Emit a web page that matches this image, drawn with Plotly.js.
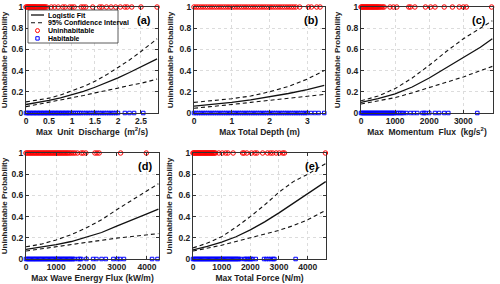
<!DOCTYPE html>
<html><head><meta charset="utf-8">
<script src="https://cdn.plot.ly/plotly-3.0.1.min.js"></script>
<style>html,body{margin:0;padding:0;background:#fff}#plot{width:500px;height:284px}</style>
</head><body><div id="plot"></div>
<script>
// ---- Panel (a): Max Unit Discharge
const aX = [0,0.25,0.5,0.75,1,1.25,1.5,1.75,2,2.25,2.5,2.85];
const aFit = [0.08,0.098,0.119,0.143,0.172,0.205,0.243,0.285,0.332,0.382,0.434,0.51];
const aUp = [0.105,0.12,0.14,0.17,0.21,0.25,0.30,0.36,0.43,0.50,0.58,0.70];
const aLo = [0.06,0.08,0.10,0.12,0.14,0.165,0.19,0.21,0.235,0.26,0.28,0.32];
const aRed = [0,0.02,0.04,0.05,0.07,0.09,0.1,0.12,0.14,0.15,0.17,0.19,0.2,0.22,0.24,0.26,0.28,0.3,0.32,0.34,0.36,0.38,0.4,0.42,0.45,0.55,0.62,0.7,0.8,0.85,0.95,1.0,1.05,1.2,1.25,1.3,1.45,1.6,1.65,1.75,1.85,1.95,2.05,2.15,2.2,2.3,2.5,2.85];
const aBlue = [0,0.03,0.06,0.09,0.12,0.15,0.18,0.21,0.24,0.27,0.3,0.33,0.36,0.39,0.42,0.45,0.48,0.51,0.54,0.57,0.6,0.63,0.66,0.69,0.72,0.75,0.78,0.81,0.84,0.87,0.9,0.93,0.96,1.0,1.04,1.08,1.12,1.16,1.2,1.25,1.3,1.35,1.4,1.45,1.5,1.55,1.6,1.65,1.7,1.75,1.8,1.85,1.9,1.95,2.0,2.15,2.25,2.35,2.55];

// ---- Panel (b): Max Total Depth
const bX = [0,0.5,1,1.5,2,2.5,3,3.45];
const bFit = [0.065,0.081,0.10,0.124,0.151,0.184,0.221,0.26];
const bUp = [0.10,0.115,0.135,0.16,0.20,0.25,0.32,0.40];
const bLo = [0.045,0.06,0.08,0.10,0.12,0.14,0.16,0.175];
const bRed = [0,0.06,0.12,0.18,0.24,0.3,0.36,0.42,0.48,0.54,0.6,0.66,0.72,0.78,0.84,0.9,0.96,1.02,1.08,1.14,1.2,1.26,1.32,1.38,1.44,1.5,1.56,1.62,1.68,1.74,1.8,1.86,1.92,1.98,2.04,2.1,2.16,2.22,2.28,2.34,2.4,2.46,2.52,2.58,2.64,2.7,2.8,3.03,3.11,3.25,3.34];
const bBlue = [0,0.06,0.12,0.18,0.24,0.3,0.36,0.42,0.48,0.54,0.6,0.66,0.72,0.78,0.84,0.9,0.96,1.02,1.08,1.14,1.2,1.26,1.32,1.38,1.44,1.5,1.56,1.62,1.68,1.74,1.8,1.86,1.92,1.98,2.04,2.1,2.16,2.22,2.28,2.34,2.4,2.46,2.52,2.58,2.64,2.7,2.76,2.82,2.88,2.94,3.0,3.1,3.2,3.3,3.45];

// ---- Panel (c): Max Momentum Flux
const cX = [0,500,1000,1500,2000,2500,3000,3500,3850];
const cFit = [0.10,0.135,0.18,0.245,0.33,0.425,0.52,0.62,0.70];
const cUp = [0.115,0.16,0.23,0.33,0.45,0.58,0.70,0.80,0.87];
const cLo = [0.085,0.115,0.145,0.19,0.24,0.29,0.34,0.40,0.44];
const cRed = [0,25,50,75,100,125,150,175,200,225,250,275,300,325,350,375,400,425,450,475,500,530,560,600,640,680,850,950,1050,1400,1450,1580,1890,2040,2170,2440,2680,2880,3000,3090,3830];
const cBlue = [0,30,60,90,120,150,180,210,240,270,300,330,360,390,420,450,480,510,540,570,600,630,660,690,720,750,780,810,840,870,900,930,960,990,1050,1100,1150,1200,1250,1330,1450,1550,1650,1800,1850,1900,2000,2170,2290,2440,2560,3410];

// ---- Panel (d): Max Wave Energy Flux
const dX = [0,500,1000,1500,2000,2500,3000,3500,4000,4380];
const dFit = [0.09,0.11,0.135,0.165,0.205,0.25,0.31,0.365,0.425,0.47];
const dUp = [0.115,0.14,0.18,0.23,0.295,0.37,0.465,0.555,0.645,0.71];
const dLo = [0.075,0.095,0.115,0.14,0.16,0.18,0.197,0.212,0.228,0.24];
const dRed = [0,40,80,120,160,200,240,280,320,360,400,440,480,520,560,600,640,680,720,760,800,840,880,920,960,1000,1040,1080,1120,1160,1200,1240,1280,1320,1360,1400,1450,1500,1560,1620,1700,1830,1890,1980,2280,2350,2420,3130,3980];
const dBlue = [0,40,80,120,160,200,240,280,320,360,400,440,480,520,560,600,640,680,720,760,800,840,880,920,960,1000,1040,1080,1120,1160,1200,1240,1280,1320,1360,1400,1440,1480,1520,1560,1610,1720,1780,1830,2000,2220,2330,2500,2640,2890,3020,3110,3240,4170,4350];

// ---- Panel (e): Max Total Force
const eX = [0,500,1000,1500,2000,2500,3000,3500,4000,4630];
const eFit = [0.085,0.118,0.16,0.21,0.275,0.35,0.435,0.525,0.615,0.73];
const eUp = [0.105,0.15,0.21,0.30,0.40,0.51,0.63,0.73,0.80,0.90];
const eLo = [0.075,0.10,0.13,0.165,0.20,0.235,0.27,0.315,0.37,0.46];
const eRed = [0,30,60,90,120,150,180,210,240,270,300,330,360,390,420,450,480,510,540,570,600,630,660,690,720,750,785,900,1020,1140,1220,1400,1730,1780,1880,2040,2160,2230,2430,2600,2700,2780,2900,3010,3130,3190,4620];
const eBlue = [0,40,80,120,160,200,240,280,320,360,400,440,480,520,560,600,640,680,720,760,800,840,880,920,960,1000,1040,1080,1120,1160,1200,1240,1280,1320,1360,1400,1440,1480,1520,1560,1600,1660,1780,1830,1880,1930,1980,2030,2070,2190,2480,2560,2640,2720,2800,2840,3580];

// ---- Axis labels / ticks
const panelLabels = ['(a)','(b)','(c)','(d)','(e)'];
const xTitles = ['Max  Unit  Discharge  (m<sup>2</sup>/s)','Max Total Depth (m)','Max  Momentum  Flux  (kg/s<sup>2</sup>)','Max Wave Energy Flux (kW/m)','Max Total Force (N/m)'];
const xTicks = [[0,0.5,1,1.5,2,2.5],[0,1,2,3],[0,1000,2000,3000],[0,1000,2000,3000,4000],[0,1000,2000,3000,4000]];
const xRanges = [[0,2.87],[0,3.47],[0,3870],[0,4400],[0,4640]];
const yTicks = [0,0.2,0.4,0.6,0.8,1];
const yTitle = 'Uninhabitable Probability';
const legendNames = ['Logistic Fit','95% Confidence Interval','Uninhabitable','Habitable'];

const panels = [
  {x:aX,fit:aFit,up:aUp,lo:aLo,red:aRed,blue:aBlue},
  {x:bX,fit:bFit,up:bUp,lo:bLo,red:bRed,blue:bBlue},
  {x:cX,fit:cFit,up:cUp,lo:cLo,red:cRed,blue:cBlue},
  {x:dX,fit:dFit,up:dUp,lo:dLo,red:dRed,blue:dBlue},
  {x:eX,fit:eFit,up:eUp,lo:eLo,red:eRed,blue:eBlue}
];

// plot box pixel positions [left,right,top,bottom]
const boxes = [[26,158,7,113],[194,325,7,113],[361,493,7,113],[26,159,153,259],[193,326,153,259]];
const W=500,H=284;
const FONT='"Liberation Sans", Arial, sans-serif';
const DASH='4px,3px';

const traces=[]; const layout={width:W,height:H,margin:{l:0,r:0,t:0,b:0},paper_bgcolor:'#fff',plot_bgcolor:'#fff',showlegend:false,shapes:[],annotations:[]};

panels.forEach((p,i)=>{
  const n=i+1, xa='x'+(n===1?'':n), ya='y'+(n===1?'':n);
  const common={xaxis:xa,yaxis:ya,hoverinfo:'skip',showlegend:false};
  traces.push(Object.assign({x:p.x,y:p.up,mode:'lines',line:{color:'#111',width:1.1,dash:DASH}},common));
  traces.push(Object.assign({x:p.x,y:p.lo,mode:'lines',line:{color:'#111',width:1.1,dash:DASH}},common));
  traces.push(Object.assign({x:p.x,y:p.fit,mode:'lines',line:{color:'#111',width:1.3}},common));
  traces.push(Object.assign({x:p.blue,y:p.blue.map(()=>0),mode:'markers',cliponaxis:false,marker:{symbol:'square-open',size:3.5,color:'#0000ff',line:{width:1}}},common));
  traces.push(Object.assign({x:p.red,y:p.red.map(()=>1),mode:'markers',cliponaxis:false,marker:{symbol:'circle-open',size:4.5,color:'#ff0000',line:{width:1}}},common));
  const b=boxes[i];
  const xk='xaxis'+(n===1?'':n), yk='yaxis'+(n===1?'':n);
  layout[xk]={domain:[b[0]/W,b[1]/W],range:xRanges[i],anchor:ya,tickvals:xTicks[i],ticks:'inside',ticklen:3,tickcolor:'#333',
    showline:true,linecolor:'#333',linewidth:1,mirror:'ticks',showgrid:true,gridcolor:'#dcdcdc',griddash:'dot',gridwidth:1,zeroline:false,
    tickfont:{family:FONT,size:8.5,weight:'bold',color:'#222'},
    title:{text:xTitles[i],font:{family:FONT,size:8.5,weight:'bold',color:'#222'},standoff:3}};
  layout[yk]={domain:[1-b[3]/H,1-b[2]/H],range:[0,1],anchor:xa,tickvals:yTicks,ticks:'inside',ticklen:3,tickcolor:'#333',
    showline:true,linecolor:'#333',linewidth:1,mirror:'ticks',showgrid:true,gridcolor:'#dcdcdc',griddash:'dot',gridwidth:1,zeroline:false,
    tickfont:{family:FONT,size:8.5,weight:'bold',color:'#222'},
    title:{text:yTitle,font:{family:FONT,size:8,weight:'bold',color:'#222'},standoff:4}};
  layout.annotations.push({text:panelLabels[i],xref:xa+' domain',yref:ya+' domain',x:0.96,y:0.95,xanchor:'right',yanchor:'top',showarrow:false,
    font:{family:FONT,size:11,weight:'bold',color:'#000'}});
});

// Legend (panel a), drawn in paper coords
const px=v=>v/W, py=v=>1-v/H;
layout.shapes.push({type:'rect',xref:'paper',yref:'paper',x0:px(28),x1:px(118),y0:py(43),y1:py(10),line:{color:'#333',width:0.8},fillcolor:'#fff',layer:'above'});
const rows=[15,22.8,30.6,38.4];
layout.shapes.push({type:'line',xref:'paper',yref:'paper',x0:px(31),x1:px(44),y0:py(rows[0]),y1:py(rows[0]),line:{color:'#111',width:1.3},layer:'above'});
layout.shapes.push({type:'line',xref:'paper',yref:'paper',x0:px(31),x1:px(44),y0:py(rows[1]),y1:py(rows[1]),line:{color:'#111',width:1.1,dash:DASH},layer:'above'});
layout.shapes.push({type:'circle',xref:'paper',yref:'paper',x0:px(35.5),x1:px(39.5),y0:py(rows[2]+2),y1:py(rows[2]-2),line:{color:'#ff0000',width:1},layer:'above'});
layout.shapes.push({type:'rect',xref:'paper',yref:'paper',x0:px(35.8),x1:px(39.2),y0:py(rows[3]+1.7),y1:py(rows[3]-1.7),line:{color:'#0000ff',width:1},layer:'above'});
legendNames.forEach((t,k)=>{
  layout.annotations.push({text:t,xref:'paper',yref:'paper',x:px(47),y:py(rows[k]),xanchor:'left',yanchor:'middle',showarrow:false,
    height:7,borderpad:0,font:{family:FONT,size:7,weight:'bold',color:'#000'}});
});

Plotly.newPlot('plot',traces,layout,{staticPlot:true,displayModeBar:false});
</script></body></html>
